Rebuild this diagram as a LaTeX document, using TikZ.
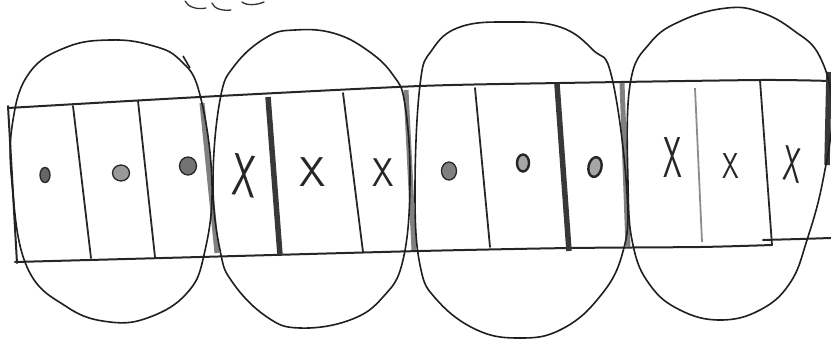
\documentclass[tikz,border=0pt]{standalone}
\usepackage{fontspec}
\usetikzlibrary{shapes.geometric}
\begin{document}
\begin{tikzpicture}[x=1pt,y=-1pt,
  ink/.style={draw=black!85, line width=2pt, line cap=round, line join=round},
  thindiv/.style={draw=black!85, line width=1.8pt, line cap=round},
  thickdiv/.style={draw=black!78, line width=5.5pt},
  graydiv/.style={draw=black!50, line width=5pt},
  faintdiv/.style={draw=black!45, line width=1.8pt},
  oval/.style={draw=black!88, line width=1.6pt},
  xmark/.style={inner sep=0pt, transform shape, font=\fontsize{40}{40}\selectfont\sffamily, text=black!85},
  dot/.style={ellipse, inner sep=0pt, draw=black!85, line width=1.3pt, fill=black!55},
  cloudarc/.style={draw=black!80, line width=1.3pt, line cap=round}]
\useasboundingbox (0,0) rectangle (831,341);
\clip (0,0) rectangle (831,341);

% cloud fragment at top
\draw[cloudarc] (185,1) .. controls (188,7) and (197,10) .. (206,8);
\draw[cloudarc] (212,3) .. controls (214,9) and (223,11) .. (231,10);
\draw[cloudarc] (242,2) .. controls (247,6) and (257,5) .. (264,2);

% strip
\coordinate (tl) at (8,106);
\coordinate (bl) at (17,263);
\draw[ink] (tl) -- (bl);
\draw[ink] plot[smooth, tension=0.4] coordinates {(8,108) (200,97) (420,86) (560,83) (760,80) (831,81)};
\draw[ink] plot[smooth, tension=0.4] coordinates {(15,262) (200,257) (420,251) (570,248) (700,247) (772,245)};
\draw[ink] (763,240) -- (800,239) -- (831,238);

% dividers
\draw[thindiv] (73,106) -- (91,258);
\draw[thindiv] (138,101) -- (155,257);
\draw[graydiv] (202,103) -- (217,253);
\draw[thickdiv] (268,97) -- (280,255);
\draw[thindiv] (343,93) -- (363,252);
\draw[graydiv] (406,90) -- (414,250);
\draw[thindiv] (475,88) -- (490,247);
\draw[thickdiv] (557,84) -- (569,251);
\draw[graydiv] (622,83) -- (628,247);
\draw[faintdiv] (695,88) -- (702,242);
\draw[thindiv] (760,80) -- (772,245);
\draw[thickdiv] (829,72) -- (827,165);

% ovals
\draw[oval] plot[smooth cycle, tension=0.7] coordinates {(12,183) (13,120) (30,72) (67,47) (110,40) (150,45) (180,60) (200,95) (212,183) (204,255) (187,293) (150,317) (110,322) (67,307) (27,267)};
\draw[oval] (183,56) -- (190,68);
\draw[oval] plot[smooth cycle, tension=0.7] coordinates {(213,183) (220,100) (235,65) (267,37) (295,30) (333,33) (367,50) (393,75) (405,105) (410,183) (403,260) (383,297) (350,320) (300,328) (267,317) (233,283) (220,250)};
\draw[oval] plot[smooth cycle, tension=0.7] coordinates {(415,190) (420,85) (432,50) (460,27) (510,22) (560,27) (593,50) (612,78) (627,193) (622,255) (597,300) (560,330) (520,338) (477,330) (437,300) (420,265)};
\draw[oval] plot[smooth cycle, tension=0.7] coordinates {(628,183) (630,85) (650,43) (683,20) (727,8) (760,12) (793,30) (820,57) (832,110) (823,180) (807,240) (790,283) (760,310) (720,320) (680,310) (650,285) (633,245)};

% dots
\node[dot, minimum width=10pt, minimum height=15pt, fill=black!60] (s1) at (45,175) {};
\node[dot, minimum width=17pt, minimum height=16pt, fill=black!40] (s2) at (121,173) {};
\node[dot, minimum width=17pt, minimum height=18pt, fill=black!55] (s3) at (188,166) {};
\node[dot, minimum width=15pt, minimum height=18pt, fill=black!50] (s7) at (449,171) {};
\node[dot, minimum width=12pt, minimum height=17pt, fill=black!35, line width=2.4pt] (s8) at (523,163) {};
\node[dot, minimum width=13pt, minimum height=20pt, fill=black!35, line width=2.4pt, rotate=-12] (s9) at (595,167) {};

% crosses
\node[xmark, xscale=0.94, yscale=1.5, rotate=-6] (x4) at (245,176) {X};
\node[xmark, xscale=1.05, yscale=1.04] (x5) at (313,172) {X};
\node[xmark, xscale=0.86, yscale=1.0] (x6) at (383,173) {X};
\node[xmark, xscale=0.75, yscale=1.44] (x10) at (673,158) {X};
\node[xmark, xscale=0.67, yscale=0.9] (x11) at (731,166) {X};
\node[xmark, xscale=0.7, yscale=1.25, rotate=-8] (x12) at (793,164) {X};
\end{tikzpicture}
\end{document}
